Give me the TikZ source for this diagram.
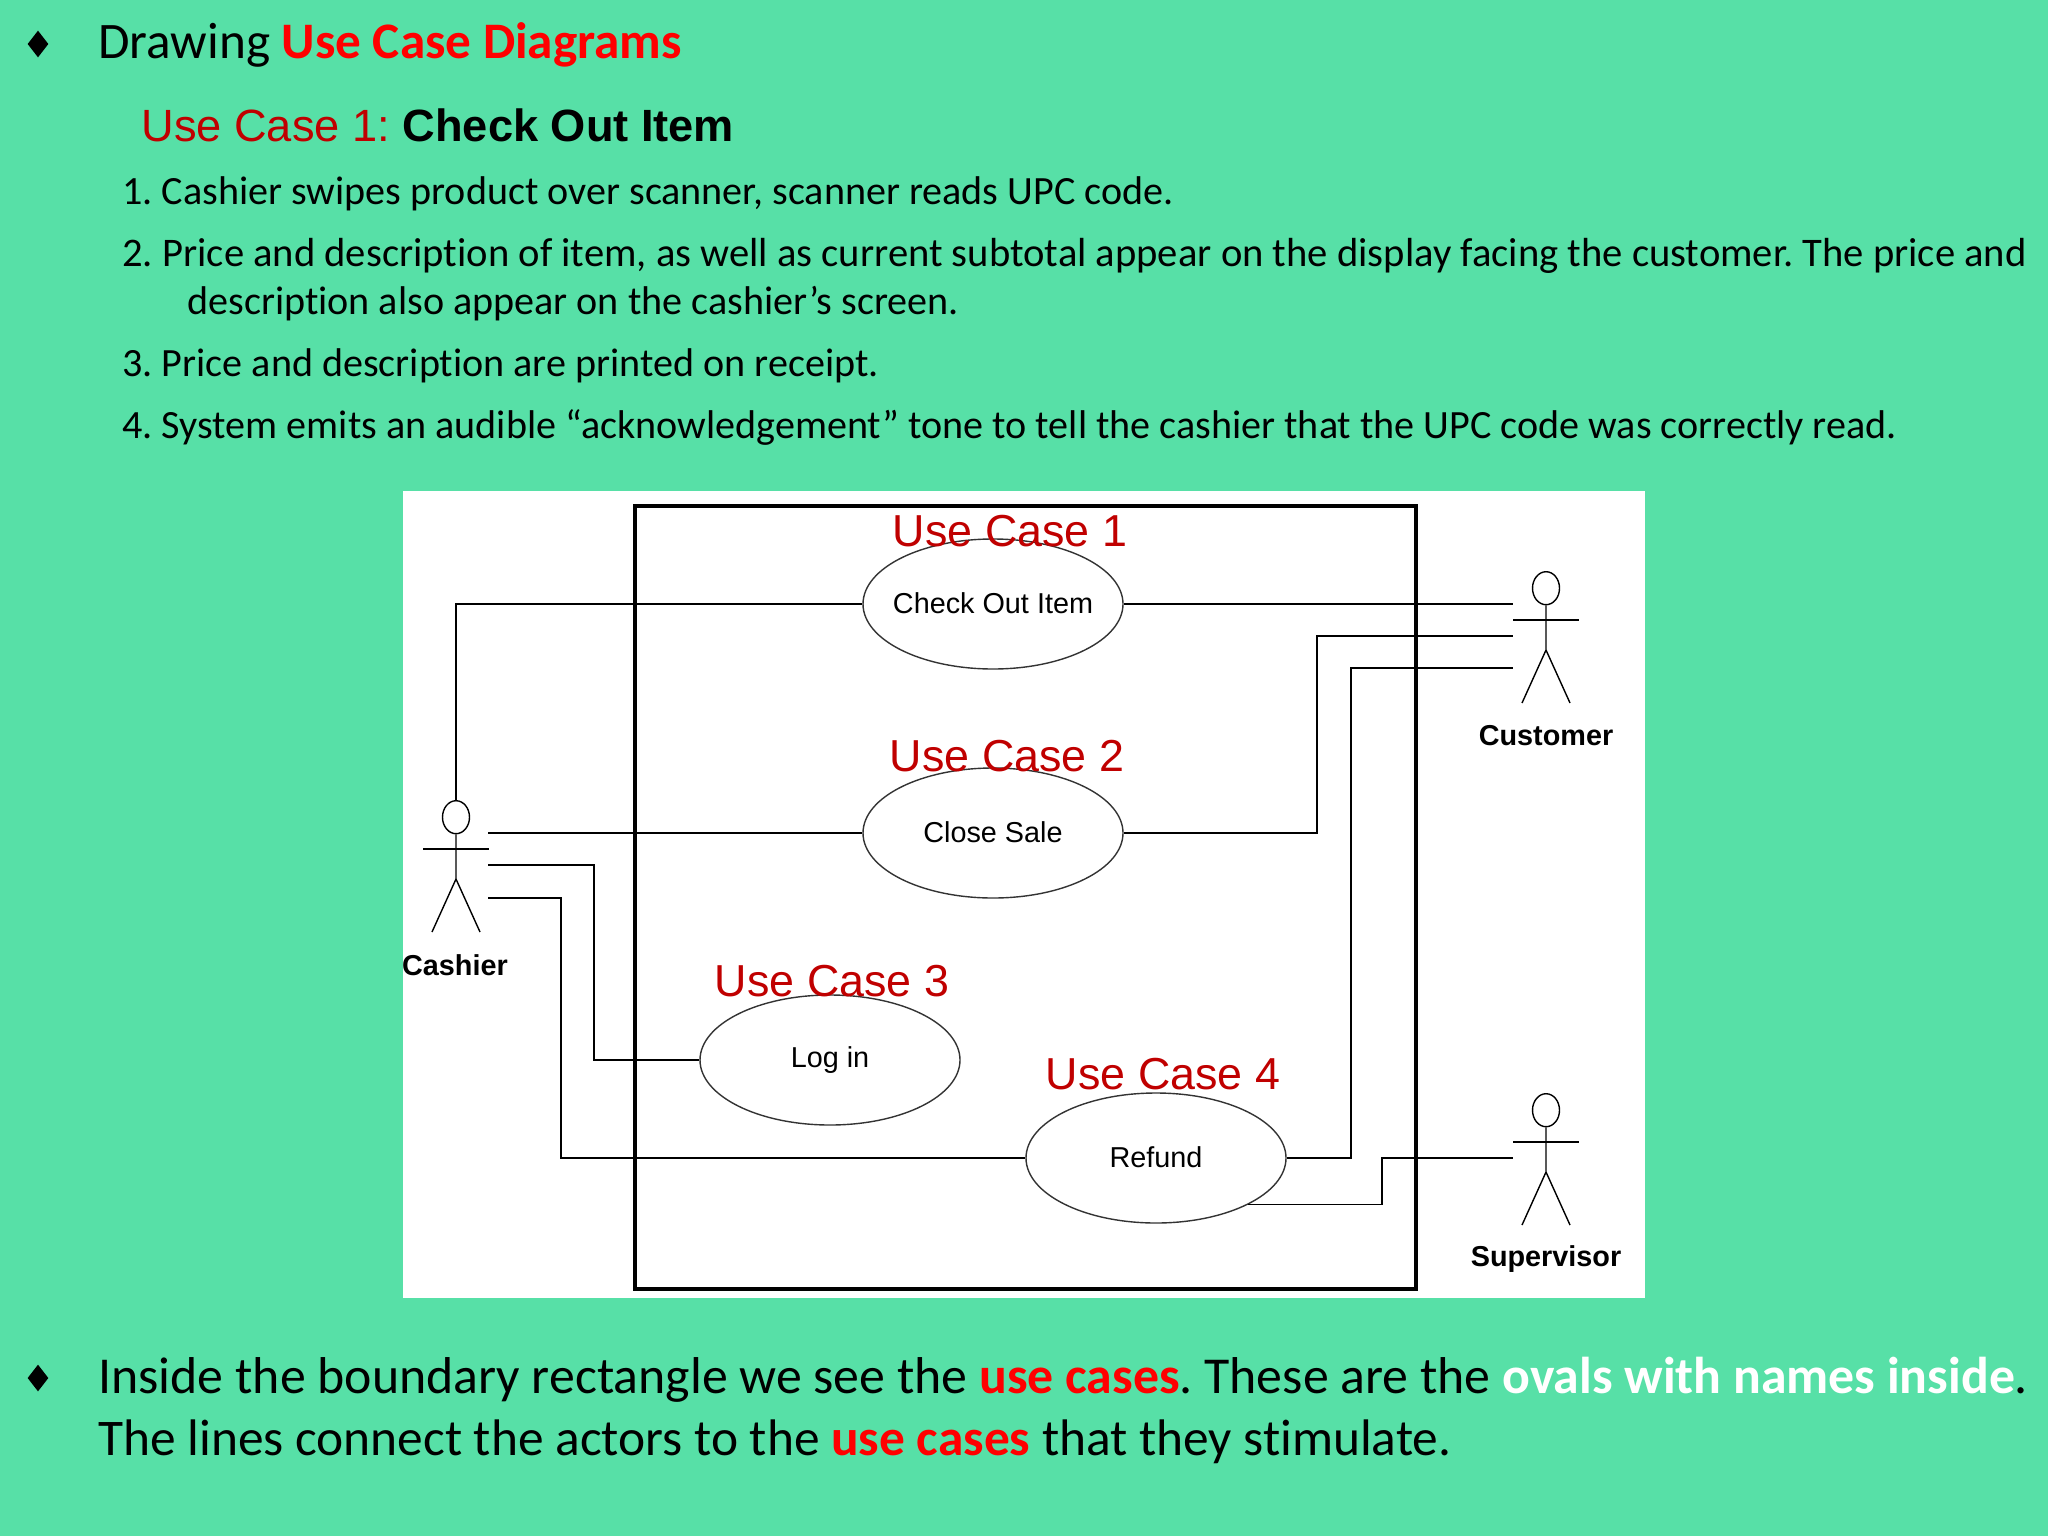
\documentclass[tikz,border=0pt]{standalone}
\usepackage{fontspec}
\setmainfont[Ligatures=CommonOff]{Carlito}
\newfontfamily\arialfont{Liberation Sans}
\usetikzlibrary{shapes.geometric}
\definecolor{slidegreen}{RGB}{87,224,167}
\definecolor{casered}{RGB}{192,0,0}
\tikzset{
  textline/.style={anchor=base west, inner sep=0pt},
  bullet/.style={diamond, fill=black, inner sep=0pt, minimum width=10.5pt, minimum height=13.5pt},
  usecase/.style={ellipse, draw=black!80, line width=0.7pt, inner sep=0pt, minimum width=130pt, minimum height=65pt,
    font=\arialfont\fontsize{14.4}{16}\selectfont},
  caselabel/.style={inner sep=0pt, text=casered, font=\arialfont\fontsize{22.4}{26}\selectfont},
  actorname/.style={inner sep=0pt, font=\arialfont\bfseries\fontsize{14.4}{16}\selectfont},
  head/.style={ellipse, draw, line width=0.7pt, inner sep=0pt, minimum width=13.5pt, minimum height=16.5pt, anchor=north},
  wire/.style={line width=0.9pt},
}
\begin{document}
\frenchspacing
\begin{tikzpicture}[x=0.5pt,y=-0.5pt]
    % Slide background
    \fill[slidegreen] (0,0) rectangle (2048,1536);
    \useasboundingbox (0,0) rectangle (2048,1536);

    % Heading
    \node[bullet] (bulletone) at (38,44) {};
    \node[textline, font=\fontsize{25.6}{30}\selectfont] (heading) at (98,59)
        {Drawing \textcolor{red}{\textbf{Use Case Diagrams}}};
    \node[textline, font=\arialfont\fontsize{22.6}{27}\selectfont] (casetitle) at (141,141)
        {\textcolor{casered}{Use Case 1:} \textbf{Check Out Item}};

    % Numbered steps
    \begin{scope}[every node/.style={textline, font=\fontsize{20.05}{24}\selectfont}]
        \node (stepone) at (122,204) {1. Cashier swipes product over scanner, scanner reads UPC code.};
        \node[font=\fontsize{20.3}{24}\selectfont] (steptwo) at (122,266) {2. Price and description of item, as well as current subtotal appear on the display facing the customer. The price and};
        \node (steptwob) at (187,314) {description also appear on the cashier’s screen.};
        \node (stepthree) at (122,376) {3. Price and description are printed on receipt.};
        \node (stepfour) at (122,438) {4. System emits an audible “acknowledgement” tone to tell the cashier that the UPC code was correctly read.};
    \end{scope}

    % Diagram panel
    \fill[white] (403,491) rectangle (1645,1298);
    \draw[line width=1.8pt] (635,506) rectangle (1416,1289);

    % Use cases
    \node[usecase] (checkout) at (993,604) {\makebox[70pt]{\raisebox{1pt}{Check Out Item}}};
    \node[usecase] (closesale) at (993,833) {\raisebox{0.5pt}{Close Sale}};
    \node[usecase] (login) at (830,1060) {\raisebox{-0.5pt}{Log in}};
    \node[usecase] (refund) at (1156,1158) {\raisebox{1pt}{Refund}};

    % Actors
    \foreach \name/\ax/\ay in {cashier/456/800, customer/1546/571, supervisor/1546/1093}{
        \node[head] (\name head) at (\ax,\ay) {};
        \draw[line width=0.7pt] (\name head.south) -- (\ax,\ay+79) -- (\ax-24,\ay+132);
        \draw[line width=0.7pt] (\ax,\ay+79) -- (\ax+24,\ay+132);
        \draw[line width=0.7pt] (\ax-33,\ay+49) -- (\ax+33,\ay+49);
    }
    \node[actorname] (cashiername) at (455,965) {Cashier};
    \node[actorname] (customername) at (1546,736) {Customer};
    \node[actorname] (supervisorname) at (1546,1259) {Supervisor};

    % Free ends beside the actors
    \coordinate (cashiertwo) at (488,833);
    \coordinate (cashierthree) at (488,865);
    \coordinate (cashierfour) at (488,898);
    \coordinate (customerone) at (1513,604);
    \coordinate (customertwo) at (1513,636);
    \coordinate (customerfour) at (1513,668);
    \coordinate (supervisorfour) at (1513,1158);

    % Connectors
    \draw[wire] (cashierhead.north) |- (checkout.west);
    \draw[wire] (checkout.east) -- (customerone);
    \draw[wire] (cashiertwo) -- (closesale.west);
    \draw[wire] (closesale.east) -| (1317,636) -- (customertwo);
    \draw[wire] (cashierthree) -| (594,1060) -- (login.west);
    \draw[wire] (cashierfour) -| (561,1158) -- (refund.west);
    \draw[wire] (refund.east) -| (1351,668) -- (customerfour);
    \draw[wire] (refund.south east) -| (1382,1158) -- (supervisorfour);

    % Red captions
    \node[caselabel] (captionone) at (1010,531) {Use Case 1};
    \node[caselabel] (captiontwo) at (1007,756) {Use Case 2};
    \node[caselabel] (captionthree) at (832,981) {Use Case 3};
    \node[caselabel] (captionfour) at (1163,1074) {Use Case 4};

    % Closing remark
    \node[bullet] (bullettwo) at (38,1378) {};
    \begin{scope}[every node/.style={textline, font=\fontsize{25.7}{30}\selectfont}]
        \node[font=\fontsize{25.9}{30}\selectfont] (remarkone) at (98,1393) {Inside the boundary rectangle we see the \textcolor{red}{\textbf{use cases}}. These are the \textcolor{white}{\textbf{ovals with names inside}}.};
        \node (remarktwo) at (98,1455) {The lines connect the actors to the \textcolor{red}{\textbf{use cases}} that they stimulate.};
    \end{scope}
\end{tikzpicture}
\end{document}
